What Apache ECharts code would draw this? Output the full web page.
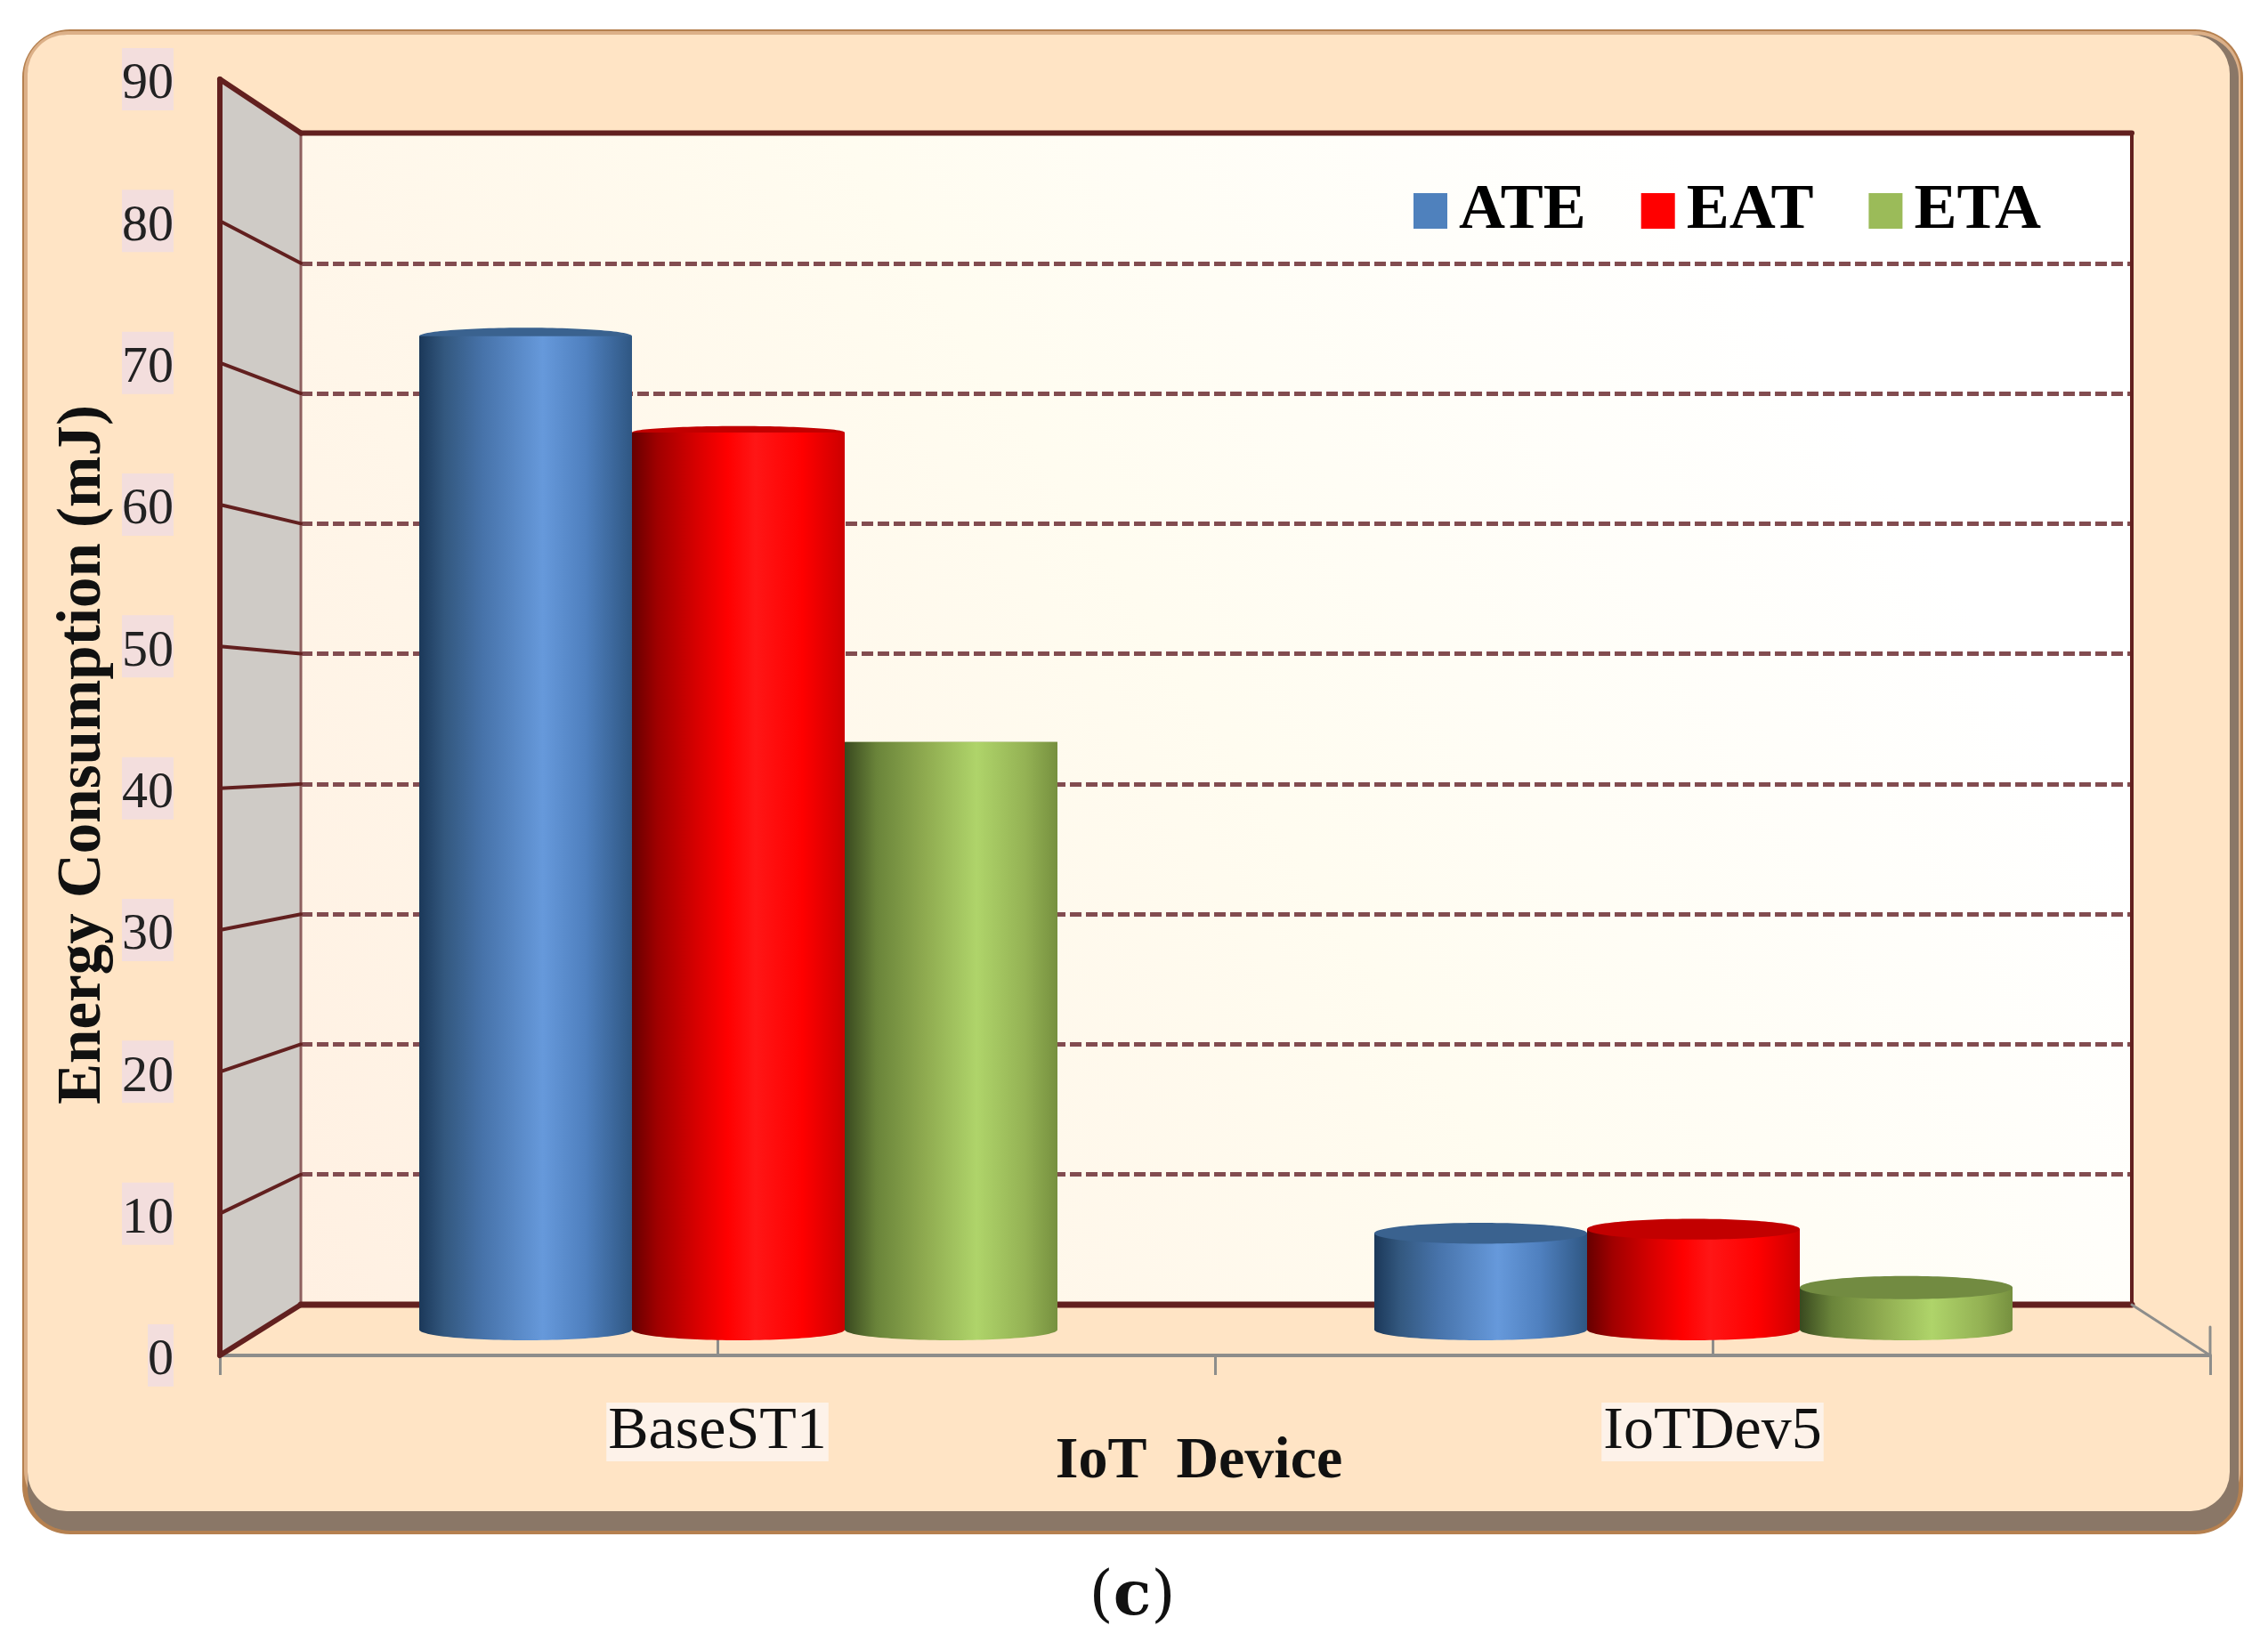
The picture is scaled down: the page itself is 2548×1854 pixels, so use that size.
<!DOCTYPE html>
<html><head><meta charset="utf-8">
<style>html,body{margin:0;padding:0;background:#fff}#main{width:2548px;height:1854px}</style>
<script src="https://cdn.jsdelivr.net/npm/echarts@6/dist/echarts.min.js"></script>
</head><body><div id="main"></div>
<script>
const categories = ['BaseST1', 'IoTDev5'];
const seriesNames = ['ATE', 'EAT', 'ETA'];
const ateValues = [73.2, 7.1];
const eatValues = [66.1, 7.4];
const etaValues = [43.3, 3.1];
const yTicks = [0, 10, 20, 30, 40, 50, 60, 70, 80, 90];

const SERIF = '"Liberation Serif", "Times New Roman", serif';
const front = {left: 247, top: 89, width: 2236, height: 1434};
const back = {left: 338, top: 149.5, width: 2057, height: 1316.5};
const mid = {left: 293, top: 121.5, width: 2146, height: 1372.5};
const BAR_W = 239, FRAME = '#62201F', GRAY = '#8D8D8B';
const fy = v => front.top + front.height * (1 - v / 90);
const by = v => back.top + back.height * (1 - v / 90);
const bR = back.left + back.width, bB = back.top + back.height;
const fR = front.left + front.width, fB = front.top + front.height;

const LG = (stops) => new echarts.graphic.LinearGradient(0, 0, 1, 0,
  stops.map(s => ({offset: s[0], color: s[1]})));
const grads = [
  LG([[0,'#1B3859'],[0.12,'#33587F'],[0.3,'#4773AA'],[0.58,'#6699DB'],[0.78,'#4F80BF'],[1,'#2F5783']]),
  LG([[0,'#660000'],[0.12,'#A00000'],[0.3,'#D60000'],[0.45,'#FF0000'],[0.58,'#FF1616'],[0.8,'#FF0000'],[1,'#CC0000']]),
  LG([[0,'#39491F'],[0.15,'#6A843A'],[0.38,'#8FAB50'],[0.62,'#AFD46A'],[0.85,'#94B254'],[1,'#76903F']])
];
const capColors = ['#3A628F', '#C20000', '#728B41'];
const legendColors = ['#4F81BD', '#FF0000', '#9BBB59'];
const allValues = [ateValues, eatValues, etaValues];

const ellipseRows = [];
allValues.forEach((vals, s) => vals.forEach((v, c) => ellipseRows.push([c, v, s])));
const capRy = v => Math.abs(1 - v / 43.5) * 14;

function barEllipses(params, api, wantFront) {
  const c = api.value(0), v = api.value(1), s = api.value(2);
  const top = api.coord([c, v]), base = api.coord([c, 0]);
  const cx = top[0] + (s - 1) * BAR_W, out = [];
  const rx = BAR_W / 2;
  if (!wantFront) {
    out.push({type: 'ellipse', shape: {cx, cy: base[1], rx, ry: 12}, style: {fill: grads[s]}});
    if (v > 43.5) out.push({type: 'ellipse', shape: {cx, cy: top[1], rx, ry: capRy(v)}, style: {fill: capColors[s]}});
  } else if (v <= 43.5) {
    out.push({type: 'ellipse', shape: {cx, cy: top[1], rx, ry: capRy(v)}, style: {fill: capColors[s]}});
  }
  return {type: 'group', children: out};
}

const wallGrad = new echarts.graphic.LinearGradient(0, 1, 1, 0, [
  {offset: 0, color: '#FFF0E2'}, {offset: 0.5, color: '#FFFCF0'}, {offset: 0.82, color: '#FFFFFF'}, {offset: 1, color: '#FFFFFF'}
]);

const rr = (x, y, x2, y2, r, fill) => ({type: 'rect', z: -10, silent: true,
  shape: {x, y, width: x2 - x, height: y2 - y, r}, style: {fill}});
const ln = (x1, y1, x2, y2, stroke, lineWidth, z) => ({type: 'line', z: z === undefined ? 1 : z, silent: true,
  shape: {x1, y1, x2, y2}, style: {stroke, lineWidth, lineCap: 'round'}});

const graphics = [
  rr(25, 33, 2520, 1724, 54, '#B5804F'),
  rr(27, 35, 2517, 1702, 50, '#DCB088'),
  rr(31, 39, 2515, 1720, 48, '#8A7767'),
  rr(31, 39, 2505, 1698, 44, '#FFE4C5'),
  {type: 'polygon', z: -9, silent: true, shape: {points: [[front.left, front.top], [back.left, back.top], [back.left, bB], [front.left, fB]]}, style: {fill: '#CFCBC6'}},
  {type: 'rect', z: -9, silent: true, shape: {x: back.left, y: back.top, width: back.width, height: back.height}, style: {fill: wallGrad}},
  ln(back.left, back.top, back.left, bB, '#8E5F5E', 3),
  ln(bR, back.top, bR, bB, FRAME, 4),
  ln(back.left, back.top, bR, back.top, FRAME, 6),
  ln(back.left, bB, bR, bB, FRAME, 7),
  ln(bR, bB, fR, fB, GRAY, 3),
  ln(fR, fB - 32, fR, fB, GRAY, 3)
];
yTicks.forEach(v => {
  const w = (v === 0 || v === 90) ? 6 : 4;
  graphics.push(ln(front.left, fy(v), back.left, by(v), FRAME, w));
});

const hiddenX = (gridIndex) => ({type: 'category', gridIndex, data: categories, show: false});
const hiddenLabels = {axisLine: {show: false}, axisTick: {show: false}, axisLabel: {show: false}};

const option = {
  backgroundColor: '#FFFFFF',
  animation: false,
  graphic: graphics,
  title: {
    text: '({c|c})', left: 1267, top: 1756, textAlign: 'center',
    textStyle: {fontFamily: '"DejaVu Serif", serif', fontSize: 70, fontWeight: 'normal', color: '#111',
      rich: {c: {fontFamily: '"DejaVu Serif", serif', fontSize: 70, fontWeight: 'bold', color: '#111'}}}
  },
  legend: {
    left: 1583, top: 196, icon: 'rect', itemWidth: 38, itemHeight: 40, itemGap: 62,
    textStyle: {fontFamily: SERIF, fontWeight: 'bold', fontSize: 72, color: '#000', padding: [0, 0, 0, 8]},
    selectedMode: false,
    data: seriesNames.map((name, i) => ({name, itemStyle: {color: legendColors[i]}}))
  },
  grid: [
    Object.assign({containLabel: false}, front),
    Object.assign({containLabel: false}, back),
    Object.assign({containLabel: false}, mid)
  ],
  xAxis: [
    {
      type: 'category', gridIndex: 0, data: categories,
      name: 'IoT  Device', nameLocation: 'middle', nameGap: 87, nameMoveOverlap: false,
      nameTextStyle: {fontFamily: SERIF, fontWeight: 'bold', fontSize: 66, color: '#111', padding: [0, 36, 0, 0]},
      axisLine: {show: true, lineStyle: {color: GRAY, width: 4}},
      axisTick: {show: true, alignWithLabel: false, length: 22, lineStyle: {color: GRAY, width: 3}},
      axisLabel: {show: true, margin: 53, fontFamily: SERIF, fontSize: 68, color: '#111',
        backgroundColor: '#FDF2E9', lineHeight: 66, padding: [0, 2]}
    },
    {
      type: 'category', gridIndex: 0, data: categories, position: 'bottom',
      axisLine: {show: false}, axisLabel: {show: false},
      axisTick: {show: true, inside: true, alignWithLabel: true, length: 20, lineStyle: {color: GRAY, width: 3}}
    },
    hiddenX(1),
    hiddenX(2)
  ],
  yAxis: [
    {
      type: 'value', gridIndex: 0, min: 0, max: 90, interval: 10,
      name: 'Energy Consumption (mJ)', nameLocation: 'middle', nameRotate: 90, nameGap: 118, nameMoveOverlap: false,
      nameTextStyle: {fontFamily: SERIF, fontWeight: 'bold', fontSize: 69, color: '#111', padding: [0, 84, 0, 0]},
      axisLine: {show: true, lineStyle: {color: FRAME, width: 6}},
      axisTick: {show: false}, splitLine: {show: false},
      axisLabel: {show: true, margin: 52, formatter: '{a|{value}}',
        rich: {a: {fontFamily: SERIF, fontSize: 58, color: '#222', backgroundColor: '#F3DEDD', lineHeight: 58, padding: [12, 0, 0, 0]}}}
    },
    {
      type: 'value', gridIndex: 1, min: 0, max: 90, interval: 10, ...hiddenLabels,
      splitLine: {show: true, showMinLine: false, showMaxLine: false,
        lineStyle: {color: '#824C50', width: 5, type: [13, 5]}}
    },
    {type: 'value', gridIndex: 2, min: 0, max: 90, interval: 10, ...hiddenLabels, splitLine: {show: false}}
  ],
  series: [
    {
      type: 'custom', name: 'under', coordinateSystem: 'cartesian2d', xAxisIndex: 3, yAxisIndex: 2,
      z: 1, silent: true, data: ellipseRows, encode: {x: 0, y: 1},
      renderItem: (p, api) => barEllipses(p, api, false)
    },
    ...seriesNames.map((name, i) => ({
      type: 'bar', name, xAxisIndex: 3, yAxisIndex: 2, barWidth: BAR_W, barGap: 0, z: 2,
      data: allValues[i], itemStyle: {color: grads[i]}
    })),
    {
      type: 'custom', name: 'over', coordinateSystem: 'cartesian2d', xAxisIndex: 3, yAxisIndex: 2,
      z: 3, silent: true, data: ellipseRows, encode: {x: 0, y: 1},
      renderItem: (p, api) => barEllipses(p, api, true)
    }
  ]
};
const chart = echarts.init(document.getElementById('main'), null, {renderer: 'canvas'});
chart.setOption(option);
</script>
</body></html>
